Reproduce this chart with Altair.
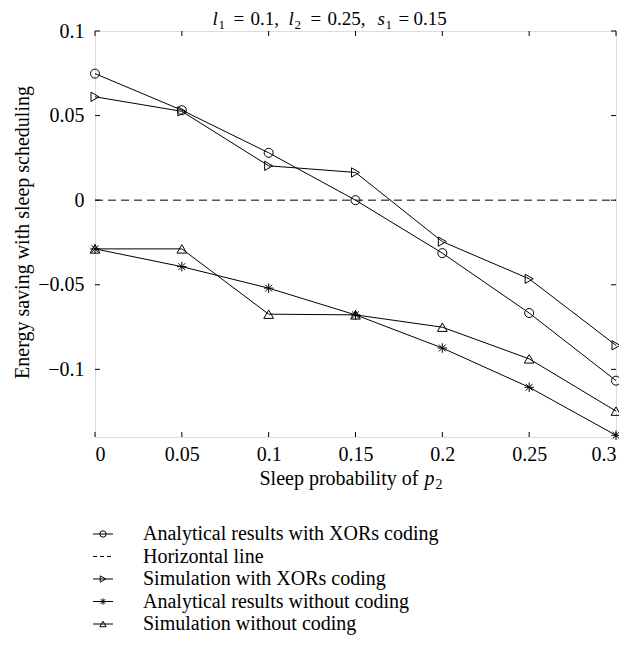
import altair as alt
import pandas as pd

# ---------------- data ----------------
x_vals = [0, 0.05, 0.1, 0.15, 0.2, 0.25, 0.3]
analytical_xor = [0.0748, 0.0532, 0.028, 0.0, -0.0313, -0.0667, -0.1067]
sim_xor = [0.0611, 0.0525, 0.0203, 0.0164, -0.0245, -0.0465, -0.0858]
analytical_nc = [-0.0288, -0.0393, -0.052, -0.0678, -0.0874, -0.1106, -0.139]
sim_nc = [-0.0288, -0.0288, -0.0674, -0.0678, -0.0751, -0.0938, -0.1247]
horizontal = [0.0, 0.0]
horizontal_x = [0, 0.3]

series_names = [
    "Analytical results with XORs coding",
    "Simulation with XORs coding",
    "Analytical results without coding",
    "Simulation without coding",
]
legend_labels = [
    "Analytical results with XORs coding",
    "Horizontal line",
    "Simulation with XORs coding",
    "Analytical results without coding",
    "Simulation without coding",
]
y_ticks = [0.1, 0.05, 0, -0.05, -0.1]
x_ticks = [0, 0.05, 0.1, 0.15, 0.2, 0.25, 0.3]

# ---------------- layout / style ----------------
FONT = "Liberation Serif"
W, H = 521, 406
PAD_L, PAD_T = 87, 23
PT = 8 + PAD_T          # plot top in page pixels
PL = 8 + PAD_L - 0.5    # plot left in page pixels
Y_DOMAIN = [-0.14, 0.1]
X_DOMAIN = [0, 0.3]
TICK = 5

ASTERISK = "M0,-1L0,1M-1,0L1,0M-0.72,-0.72L0.72,0.72M-0.72,0.72L0.72,-0.72"
shape_scale = alt.Scale(domain=series_names,
                        range=["circle", "triangle-right", ASTERISK, "triangle-up"])
size_scale = alt.Scale(domain=series_names, range=[81, 95, 50, 115])

rows = []
for name, vals in zip(series_names, [analytical_xor, sim_xor, analytical_nc, sim_nc]):
    for xv, yv in zip(x_vals, vals):
        rows.append({"x": xv, "y": yv, "series": name})
df = pd.DataFrame(rows)
hline_df = pd.DataFrame({"x": horizontal_x, "y": horizontal})

xs = alt.Scale(domain=X_DOMAIN, nice=False, zero=False)
ys = alt.Scale(domain=Y_DOMAIN, nice=False, zero=False)

x_axis = alt.Axis(values=x_ticks, format="~g", ticks=False, domain=False, grid=False,
                  labelPadding=7, title=None, labelFont=FONT, labelFontSize=20,
                  labelColor="black")
y_axis = alt.Axis(values=y_ticks, format="~g", ticks=False, domain=False, grid=False,
                  labelPadding=11, title="Energy saving with sleep scheduling",
                  titleFont=FONT, titleFontSize=20, titleFontWeight="normal",
                  titleColor="black", titleAngle=-90, titleX=-73, titleY=232 - PT,
                  titleAlign="center", titleBaseline="middle",
                  labelFont=FONT, labelFontSize=20, labelColor="black")

X = alt.X("x:Q", scale=xs, axis=x_axis)
Y = alt.Y("y:Q", scale=ys, axis=y_axis)

lines = alt.Chart(df).mark_line(color="black", strokeWidth=1).encode(
    x=X, y=Y, detail="series:N")
points = alt.Chart(df).mark_point(filled=False, stroke="black", strokeWidth=1, opacity=1).encode(
    x=X, y=Y,
    shape=alt.Shape("series:N", scale=shape_scale, legend=None),
    size=alt.Size("series:N", scale=size_scale, legend=None))
hline = alt.Chart(hline_df).mark_line(color="black", strokeWidth=1, strokeDash=[8, 5]).encode(
    x=X, y=Y)

ytick_df = pd.DataFrame({"y": y_ticks})
xtick_df = pd.DataFrame({"x": x_ticks})
lt = alt.Chart(ytick_df).mark_rule(color="black", strokeWidth=1).encode(
    y=Y, x=alt.value(0), x2=alt.value(TICK))
rt = alt.Chart(ytick_df).mark_rule(color="black", strokeWidth=1).encode(
    y=Y, x=alt.value(W - TICK), x2=alt.value(W))
tt = alt.Chart(xtick_df).mark_rule(color="black", strokeWidth=1).encode(
    x=X, y=alt.value(0), y2=alt.value(TICK))
bt = alt.Chart(xtick_df).mark_rule(color="black", strokeWidth=1).encode(
    x=X, y=alt.value(H - TICK), y2=alt.value(H))

main = alt.layer(hline, lines, points, lt, rt, tt, bt)

# ---------------- legend ----------------
leg_df = pd.DataFrame({"series": legend_labels})
leg_pts_df = pd.DataFrame({"series": series_names})
LY = alt.Y("series:N", scale=alt.Scale(type="point", domain=legend_labels,
                                       range=[534 - PT, 624 - PT], padding=0), axis=None)
leg_line = alt.Chart(leg_df).mark_rule(color="black", strokeWidth=1).encode(
    y=LY, x=alt.value(-2), x2=alt.value(18),
    strokeDash=alt.StrokeDash("series:N", scale=alt.Scale(
        domain=legend_labels,
        range=[[1, 0], [4, 3], [1, 0], [1, 0], [1, 0]]), legend=None))
leg_pts = alt.Chart(leg_pts_df).mark_point(filled=False, stroke="black", strokeWidth=1, opacity=1).encode(
    y=LY, x=alt.value(8),
    shape=alt.Shape("series:N", scale=shape_scale, legend=None),
    size=alt.value(40))
leg_text = alt.Chart(leg_df).mark_text(align="left", baseline="middle", font=FONT,
                                       fontSize=20, color="black").encode(
    y=LY, x=alt.value(48), text="series:N")
legend = alt.layer(leg_line, leg_pts, leg_text)

# ---------------- title & x-axis title (mixed italic text) ----------------
TB = 25 - PT   # title baseline relative to plot top
title_regular = pd.DataFrame({
    "t": ["=", "0.1,", "=", "0.25,", "=", "0.15"],
    "px": [233 - PL, 250 - PL, 310 - PL, 327 - PL, 398 - PL, 413 - PL],
    "py": [TB] * 6,
})
title_italic = pd.DataFrame({
    "t": ["l", "l", "s"],
    "px": [212 - PL, 288 - PL, 377 - PL],
    "py": [TB] * 3,
})
title_sub = pd.DataFrame({
    "t": ["1", "2", "1"],
    "px": [218 - PL, 294 - PL, 385 - PL],
    "py": [TB + 4] * 3,
})
XB = 485 - PT  # x-axis title baseline relative to plot top
xt_regular = pd.DataFrame({"t": ["Sleep probability of"], "px": [259 - PL], "py": [XB]})
xt_italic = pd.DataFrame({"t": ["p"], "px": [424 - PL], "py": [XB]})
xt_sub = pd.DataFrame({"t": ["2"], "px": [435 - PL], "py": [XB + 4]})


def txt(data, size, style="normal"):
    return alt.Chart(data).mark_text(align="left", baseline="alphabetic", font=FONT,
                                     fontSize=size, fontStyle=style, color="black").encode(
        x=alt.X("px:Q", scale=None), y=alt.Y("py:Q", scale=None), text="t:N")


texts = alt.layer(
    txt(title_regular, 19), txt(title_italic, 19, "italic"), txt(title_sub, 13),
    txt(xt_regular, 20), txt(xt_italic, 20, "italic"), txt(xt_sub, 14),
)

chart = alt.layer(main, legend, texts).resolve_scale(
    x="independent", y="independent"
).properties(
    width=W, height=H,
    autosize=alt.AutoSizeParams(type="none"),
    padding={"left": PAD_L, "top": PAD_T, "right": 627 - 16 - PAD_L - W,
             "bottom": 653 - 16 - PAD_T - H},
).configure_view(stroke="black", strokeWidth=1).configure(background="white")

chart.save("out.html", embed_options={"renderer": "svg", "actions": False})
